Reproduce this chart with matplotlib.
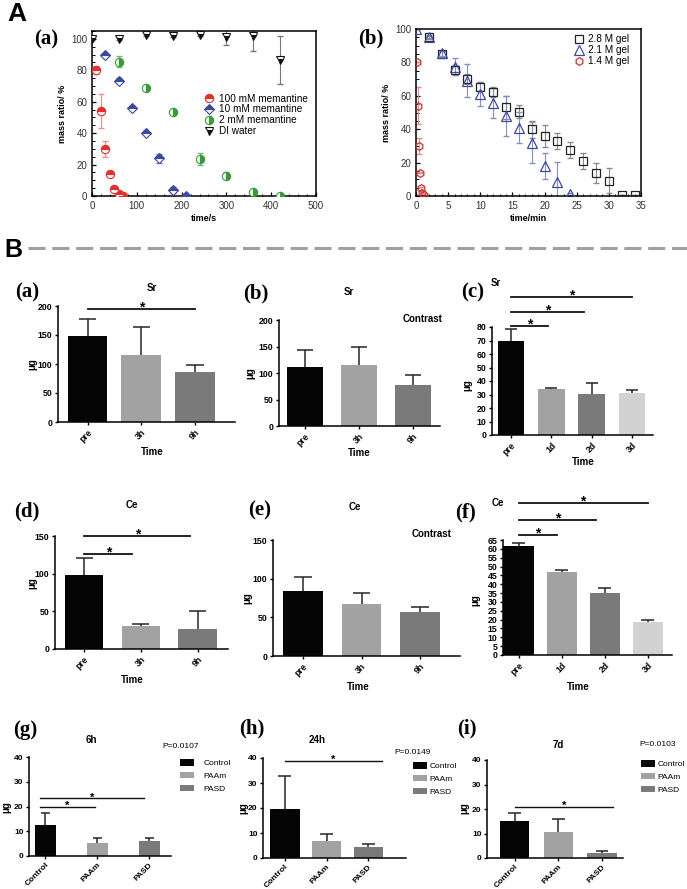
import numpy as np
import matplotlib
matplotlib.use("Agg")
import matplotlib.pyplot as plt
from matplotlib.lines import Line2D

W, H = 687, 889
plt.rcParams['font.family'] = ['Liberation Sans', 'DejaVu Sans']

# ---------------- A(a): mass ratio vs time (s)
t_100 = [10, 20, 30, 40, 50, 60, 70]
m_100 = [80, 54, 30, 14, 4.5, 1.5, 0.3]
e_100 = [2.5, 11, 5, 1, 1, 0.5, 0.3]
t_10 = [30, 60, 90, 120, 150, 180, 210]
m_10 = [89.5, 73.5, 56, 40, 24, 4, 0]
e_10 = [1, 1.5, 1, 1, 3, 2, 0]
t_2 = [60, 120, 180, 240, 300, 360, 420]
m_2 = [85.5, 68.5, 53.5, 23.5, 13, 2.5, 0]
e_2 = [3.5, 1, 1, 4, 2, 1, 0]
t_w = [0, 60, 120, 180, 240, 300, 360, 420]
m_w = [100, 100, 102.5, 102, 102.5, 101, 102, 86.5]
e_w = [0.5, 0.5, 0.5, 0.5, 0.5, 5, 10, 15.5]

# ---------------- A(b): mass ratio vs time (min)
t_28 = [2, 4, 6, 8, 10, 12, 14, 16, 18, 20, 22, 24, 26, 28, 30, 32, 34]
m_28 = [95, 85, 75.5, 70, 65.5, 62, 53, 50.5, 40, 36, 33, 27.5, 21, 14, 9, 0.8, 0.5]
e_28 = [1, 2, 3, 3, 2.5, 3, 7, 4, 5, 6.5, 5, 5, 5, 6, 7.5, 0, 0]
t_21 = [0, 2, 4, 6, 8, 10, 12, 14, 16, 18, 20, 22, 24]
m_21 = [100, 95.5, 85.5, 77.5, 69, 61, 55.5, 48, 41, 32, 18, 8.5, 1]
e_21 = [0, 1, 1.5, 5, 10, 7, 9, 12, 9.5, 12.5, 8, 12, 1]
t_14 = [0.17, 0.33, 0.5, 0.67, 0.83, 1.0, 1.17]
m_14 = [80, 54, 30, 14, 4.5, 1.5, 0.3]
e_14 = [0, 11, 5, 0.5, 1, 0.5, 0]

# ---------------- B bar panels
t3 = ['pre', '3h', '9h']
t4 = ['pre', '1d', '2d', '3d']
grp = ['Control', 'PAAm', 'PASD']
sr_a = [149, 115, 87]
sr_a_err = [28, 49, 12]
sr_b = [111, 116, 77]
sr_b_err = [32, 33, 19]
sr_c = [70, 34, 30.5, 31]
sr_c_err = [8.5, 0.5, 8, 2]
ce_d = [98, 30, 27]
ce_d_err = [23, 3, 23]
ce_e = [84, 67, 57]
ce_e_err = [18, 14, 6]
ce_f = [61.5, 47, 35, 18.8]
ce_f_err = [2, 1, 3, 1.2]
h6 = [12.5, 5.2, 6.2]
h6_err = [4.8, 2.1, 1.0]
h24 = [19.5, 7, 4.6]
h24_err = [13.5, 2.5, 1.2]
d7 = [15, 10.5, 2.2]
d7_err = [3.2, 5.5, 0.7]

BAR4 = ['#050505', '#a2a2a2', '#7a7a7a', '#d2d2d2']

fig = plt.figure(figsize=(W / 100, H / 100), dpi=100)


def ax_px(l, t, r, b):
    return fig.add_axes([l / W, 1 - b / H, (r - l) / W, (b - t) / H])


def ftext(x, y, s, **kw):
    kw.setdefault('ha', 'center')
    kw.setdefault('va', 'center')
    return fig.text(x / W, 1 - y / H, s, **kw)


def origin_style(ax):
    for sp in ax.spines.values():
        sp.set_linewidth(1.1)
    ax.tick_params(direction='in', length=3, width=0.9, labelsize=7,
                   labelcolor='#333333', top=False, right=False)
    ax.tick_params(which='minor', direction='in', length=1.8, width=0.7)
    ax.minorticks_on()


def series(ax, t, m, e, marker, col, ecol, label, **mk):
    ax.errorbar(t, m, yerr=e, fmt='none', ecolor=ecol, elinewidth=0.8,
                capsize=2, zorder=2)
    ax.plot(t, m, ls='none', marker=marker, color=col, mec=col,
            label=label, zorder=3, **mk)


# ===================== A(a)
ax = ax_px(92, 31, 316, 196)
series(ax, t_100, m_100, e_100, 'o', '#e03030', '#e89090', '100 mM memantine',
       ms=6, mew=0.8, fillstyle='top', mfc='#e03030', mfcalt='white')
series(ax, t_10, m_10, e_10, 'D', '#3a4aa0', '#6a78c0', '10 mM memantine',
       ms=5, mew=0.8, fillstyle='top', mfc='#3a4aa0', mfcalt='white')
series(ax, t_2, m_2, e_2, 'o', '#3a9a3a', '#70b870', '2 mM memantine',
       ms=6, mew=0.8, fillstyle='right', mfc='#3a9a3a', mfcalt='white')
series(ax, t_w, m_w, e_w, 'v', '#111111', '#777777', 'DI water',
       ms=6, mew=0.8, fillstyle='bottom', mfc='#111111', mfcalt='white')
ax.set_xlim(0, 500)
ax.set_ylim(0, 105)
ax.set_xticks(range(0, 501, 100))
ax.set_yticks(range(0, 101, 20))
origin_style(ax)
ax.set_xlabel('time/s', fontsize=6.5, fontweight='bold', labelpad=2)
ax.set_ylabel('mass ratio/ %', fontsize=6.5, fontweight='bold', labelpad=3)
ax.legend(loc='upper left', bbox_to_anchor=(0.5, 0.62), frameon=False,
          fontsize=7.2, handlelength=1.0, handletextpad=0.5,
          labelspacing=0.08, borderpad=0, borderaxespad=0)

# ===================== A(b)
ax = ax_px(416, 29, 641, 196)
series(ax, t_28, m_28, e_28, 's', '#222222', '#8a8a8a', '2.8 M gel',
       ms=5.5, mew=0.9, mfc='none')
series(ax, t_21, m_21, e_21, '^', '#3a4aa0', '#8890c0', '2.1 M gel',
       ms=6.5, mew=0.9, mfc='none')
series(ax, t_14, m_14, e_14, 'h', '#d03030', '#e09090', '1.4 M gel',
       ms=5.5, mew=0.9, mfc='none')
ax.set_xlim(0, 35)
ax.set_ylim(0, 100)
ax.set_xticks(range(0, 36, 5))
ax.set_yticks(range(0, 101, 20))
origin_style(ax)
ax.set_xlabel('time/min', fontsize=6.5, fontweight='bold', labelpad=2)
ax.set_ylabel('mass ratio/ %', fontsize=6.5, fontweight='bold', labelpad=3)
ax.legend(loc='upper right', bbox_to_anchor=(0.95, 0.97), frameon=False,
          fontsize=7.2, handlelength=1.0, handletextpad=0.5,
          labelspacing=0.1, borderpad=0, borderaxespad=0)

# panel letters and divider
ftext(17, 14, 'A', fontsize=19, fontweight='bold')
ftext(13, 250, 'B', fontsize=18, fontweight='bold')
fig.add_artist(Line2D([28 / W, 1.0], [1 - 248 / H, 1 - 248 / H], color='#a0a0a0',
                      lw=2.2, dashes=(5.6, 2.2), transform=fig.transFigure))
serif = dict(fontsize=15, fontweight='bold', family='Liberation Serif')
ftext(46, 39, '(a)', **serif)
ftext(371, 38, '(b)', **serif)


def bar_panel(box, vals, errs, labels, ymax, step, xlim, width,
              sig=(), star=10, sig_lw=1.3, tsize=6.3):
    ax = ax_px(*box)
    x = np.arange(len(vals))
    vals = np.array(vals, float)
    errs = np.array(errs, float)
    ax.bar(x, vals, width=width, color=BAR4[:len(vals)], zorder=2)
    ax.vlines(x, vals, vals + errs, color='#262626', lw=1.1, zorder=3)
    ax.hlines(vals + errs, x - width * 0.22, x + width * 0.22,
              color='#262626', lw=1.1, zorder=3)
    ax.set_xlim(*xlim)
    ax.set_ylim(0, ymax)
    ax.set_yticks(np.arange(0, ymax + 0.1, step))
    ax.set_xticks(x)
    ax.set_xticklabels(labels, rotation=45, ha='right', rotation_mode='anchor')
    for sp in ['top', 'right']:
        ax.spines[sp].set_visible(False)
    for sp in ['left', 'bottom']:
        ax.spines[sp].set_linewidth(1.1)
    ax.tick_params(direction='out', length=2.5, width=1, labelsize=tsize, pad=1.5)
    for lab in ax.get_xticklabels() + ax.get_yticklabels():
        lab.set_fontweight('bold')
    for x0, x1, y in sig:
        ax.plot([x0, x1], [y, y], color='#111111', lw=sig_lw, clip_on=False)
        ax.annotate('*', ((x0 + x1) / 2, y), xytext=(0, -1.8),
                    textcoords='offset points', ha='center', va='baseline',
                    fontsize=star, fontweight='bold', annotation_clip=False)
    return ax


lab = dict(fontsize=7, fontweight='bold')
legkw = dict(loc='upper left', bbox_transform=fig.transFigure, frameon=False,
             fontsize=6, handlelength=1.7, handleheight=0.85,
             labelspacing=0.55, borderpad=0, borderaxespad=0)

# (a) Sr
bar_panel((58, 306, 235, 422), sr_a, sr_a_err, t3, 200, 50, (-0.55, 2.74), 0.74,
          sig=[(0, 2, 195)])
ftext(27, 292, '(a)', **serif)
ftext(152, 288, 'Sr', **lab)
ftext(32, 364, 'μg', rotation=90, **lab)
ftext(152, 452, 'Time', **lab)

# (b) Sr contrast
bar_panel((279, 320, 440, 426), sr_b, sr_b_err, t3, 200, 50, (-0.48, 2.5), 0.68)
ftext(256, 293, '(b)', **serif)
ftext(349, 292, 'Sr', **lab)
ftext(423, 319, 'Contrast', **lab)
ftext(250, 373, 'μg', rotation=90, **lab)
ftext(359, 453, 'Time', **lab)

# (c) Sr days
bar_panel((492, 327, 653, 435), sr_c, sr_c_err, t4, 80, 10, (-0.47, 3.52), 0.66,
          sig=[(0, 0.93, 80.5), (0, 1.8, 91.3), (0, 3, 102.4)])
ftext(473, 292, '(c)', **serif)
ftext(496, 283, 'Sr', **lab)
ftext(467, 385, 'μg', rotation=90, **lab)
ftext(583, 462, 'Time', **lab)

# (d) Ce
bar_panel((55, 536, 228, 649), ce_d, ce_d_err, t3, 150, 50, (-0.51, 2.53), 0.68,
          sig=[(0, 0.85, 125.7), (0, 1.87, 150.4)])
ftext(27, 511, '(d)', **serif)
ftext(132, 505, 'Ce', **lab)
ftext(32, 583, 'μg', rotation=90, **lab)
ftext(132, 680, 'Time', **lab)

# (e) Ce contrast
bar_panel((273, 540, 460, 656), ce_e, ce_e_err, t3, 150, 50, (-0.51, 2.68), 0.68)
ftext(260, 510, '(e)', **serif)
ftext(355, 507, 'Ce', **lab)
ftext(432, 534, 'Contrast', **lab)
ftext(247, 598, 'μg', rotation=90, **lab)
ftext(358, 687, 'Time', **lab)

# (f) Ce days
bar_panel((503, 540, 672, 655), ce_f, ce_f_err, t4, 65, 5, (-0.36, 3.56), 0.7,
          sig=[(0, 0.9, 67.8), (0, 1.8, 76.3), (0, 3, 85.9)])
ftext(466, 512, '(f)', **serif)
ftext(498, 503, 'Ce', **lab)
ftext(475, 600, 'μg', rotation=90, **lab)
ftext(578, 687, 'Time', **lab)

# (g) 6h
ax = bar_panel((29, 757, 171, 856), h6, h6_err, grp, 40, 10, (-0.31, 2.42), 0.4,
               sig=[(-0.1, 0.96, 19.9), (-0.1, 1.9, 23.3)],
               star=8, sig_lw=1.0, tsize=6)
ftext(25, 730, '(g)', **serif)
ftext(91, 740, '6h', **lab)
ftext(181, 747, 'P=0.0107', fontsize=6)
ftext(6, 807, 'μg', rotation=90, **lab)
ax.legend(ax.patches[:3], grp, bbox_to_anchor=(180 / W, 1 - 759 / H),
          handletextpad=1.1, **legkw)

# (h) 24h
ax = bar_panel((263, 758, 406, 858), h24, h24_err, grp, 40, 10, (-0.52, 2.9), 0.71,
               sig=[(0, 2.33, 38.9)], star=8, sig_lw=1.0, tsize=6)
ftext(252, 728, '(h)', **serif)
ftext(317, 740, '24h', **lab)
ftext(413, 752, 'P=0.0149', fontsize=6)
ftext(243, 808, 'μg', rotation=90, **lab)
ax.legend(ax.patches[:3], grp, bbox_to_anchor=(413 / W, 1 - 762 / H),
          handletextpad=0.3, **legkw)

# (i) 7d
ax = bar_panel((487, 760, 623, 858), d7, d7_err, grp, 40, 10, (-0.63, 2.48), 0.67,
               sig=[(0, 2.25, 20.9)], star=8, sig_lw=1.0, tsize=6)
ftext(467, 728, '(i)', **serif)
ftext(558, 745, '7d', **lab)
ftext(658, 745, 'P=0.0103', fontsize=6)
ftext(464, 808, 'μg', rotation=90, **lab)
ax.legend(ax.patches[:3], grp, bbox_to_anchor=(641 / W, 1 - 760 / H),
          handletextpad=0.3, **legkw)

fig.savefig('out.png', dpi=100)
